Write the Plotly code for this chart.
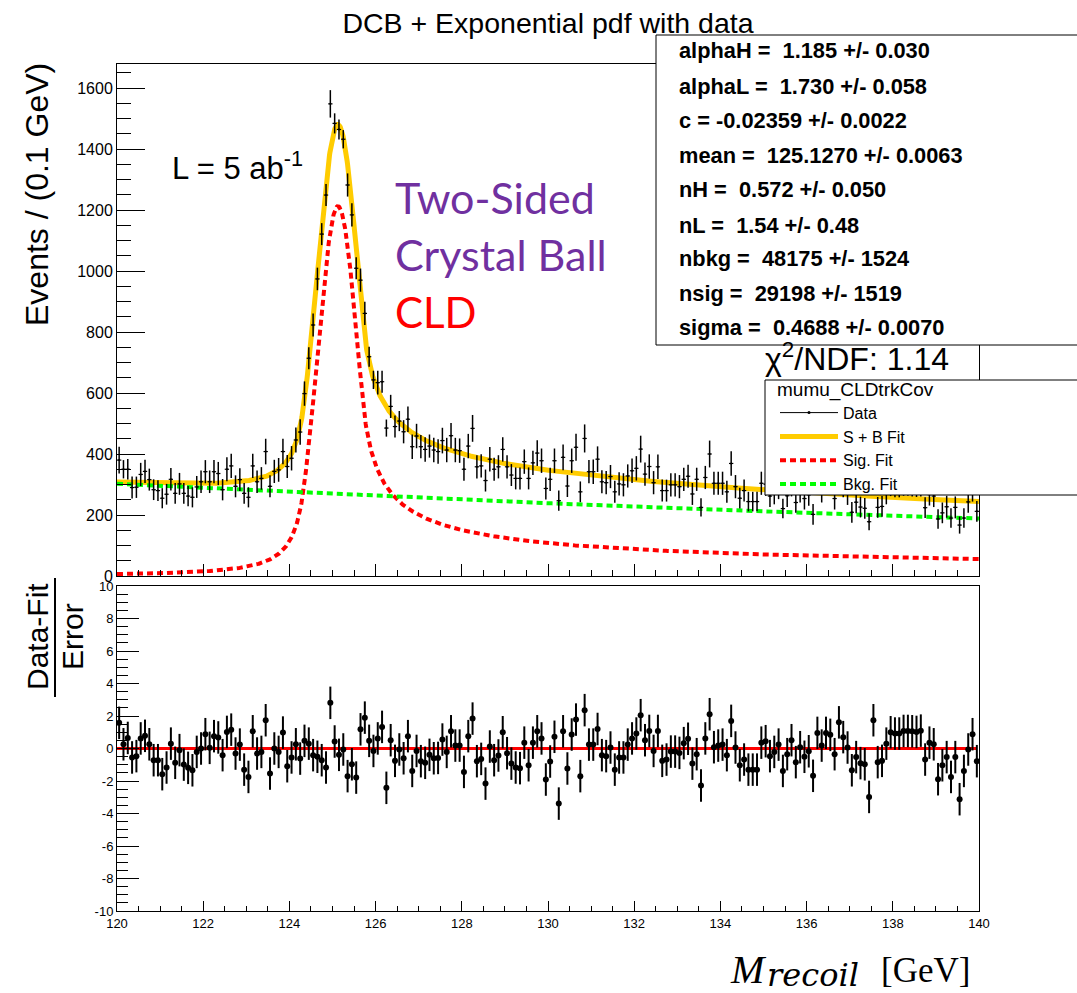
import numpy as np
import plotly.graph_objects as go

# ---------------------------------------------------------------------------
# Binning: 200 bins of 0.1 GeV in the recoil mass
# ---------------------------------------------------------------------------
x_lo, x_hi, bin_width = 120.0, 140.0, 0.1
bin_centers = np.linspace(x_lo + bin_width / 2, x_hi - bin_width / 2, 200)

# Events per bin (weighted sample)
events = [
    380, 350, 350, 290, 291, 333, 343, 316, 283, 280,
    255, 268, 317, 271, 302, 271, 262, 258, 292, 309,
    342, 309, 342, 336, 283, 350, 361, 294, 316, 271,
    258, 361, 309, 320, 408, 294, 343, 348, 408, 359,
    386, 446, 472, 598, 714, 823, 974, 1121, 1249, 1548,
    1484, 1464, 1432, 1282, 1184, 1009, 970, 861, 719, 643,
    634, 637, 485, 556, 490, 508, 473, 514, 424, 459,
    424, 415, 426, 413, 408, 444, 413, 460, 413, 411,
    350, 426, 484, 358, 361, 313, 383, 350, 358, 415,
    358, 331, 320, 320, 375, 320, 371, 403, 378, 287,
    317, 378, 247, 389, 295, 378, 422, 276, 451, 342,
    342, 383, 309, 306, 326, 276, 302, 299, 328, 345,
    353, 416, 334, 359, 306, 358, 280, 280, 299, 299,
    293, 317, 327, 269, 317, 225, 323, 400, 304, 304,
    304, 276, 369, 293, 255, 280, 244, 244, 244, 304,
    301, 262, 272, 290, 221, 263, 299, 241, 279, 254,
    266, 202, 312, 279, 310, 305, 254, 336, 296, 269,
    209, 242, 226, 222, 178, 334, 225, 228, 272, 300,
    296, 296, 301, 301, 299, 297, 299, 224, 267, 262,
    187, 207, 227, 190, 225, 167, 190, 243, 282, 212,
]

# Uncertainty on the events per bin
event_errors = [
    44, 30, 34, 36, 35, 38, 38, 36, 34, 34,
    33, 34, 37, 34, 36, 34, 33, 33, 36, 37,
    38, 37, 38, 38, 35, 39, 40, 36, 37, 34,
    33, 40, 37, 37, 42, 36, 38, 39, 42, 38,
    40, 41, 42, 40, 36, 38, 37, 36, 36, 45,
    33, 33, 30, 38, 38, 36, 38, 38, 33, 30,
    39, 36, 28, 38, 36, 33, 38, 42, 40, 40,
    38, 40, 38, 40, 40, 42, 40, 42, 40, 40,
    38, 40, 44, 38, 38, 36, 40, 38, 38, 40,
    38, 36, 36, 36, 40, 36, 40, 42, 40, 36,
    38, 40, 33, 42, 36, 40, 44, 34, 46, 38,
    40, 42, 38, 38, 38, 36, 38, 38, 38, 40,
    40, 44, 38, 40, 38, 40, 36, 36, 38, 38,
    38, 38, 38, 36, 38, 30, 38, 44, 38, 38,
    38, 36, 40, 38, 34, 36, 32, 32, 32, 38,
    38, 36, 37, 38, 32, 37, 38, 34, 38, 36,
    36, 34, 40, 38, 40, 38, 36, 42, 38, 36,
    34, 36, 34, 34, 28, 42, 34, 34, 37, 38,
    38, 38, 38, 38, 38, 38, 38, 34, 36, 36,
    32, 34, 36, 32, 36, 28, 32, 36, 38, 34,
]

# Pulls (Data - Fit) / Error per bin
pulls = [
    1.58, 0.26, 0.65, -0.55, -0.47, 0.62, 0.78, 0.26, -0.72, -0.72,
    -1.58, -1.17, 0.30, -0.88, -0.10, -0.99, -1.19, -1.34, -0.21, 0.00,
    0.88, 0.04, 0.76, 0.68, -0.41, 1.02, 1.16, -0.31, 0.24, -1.30,
    -1.75, 1.06, -0.31, -0.21, 1.74, -1.54, 0.00, -0.21, 0.98, -1.09,
    -0.55, 0.26, -0.62, 0.47, 0.30, -0.41, -0.51, -0.72, -1.17, 2.81,
    0.43, -0.39, -0.06, -1.70, -0.97, -1.79, 1.18, 1.90, 0.47, -0.15,
    0.62, 1.33, -2.42, 0.51, -0.76, -0.06, -0.60, 0.76, -1.38, -0.15,
    -0.78, -0.88, -0.39, -0.60, -0.58, 0.55, -0.21, 1.06, 0.18, 0.18,
    -1.44, 0.76, 1.84, -0.78, -0.64, -2.16, 0.12, -0.72, -0.43, 1.00,
    -0.29, -0.93, -1.17, -1.21, 0.36, -1.03, 0.36, 1.06, 0.62, -1.91,
    -0.80, 0.72, -3.39, 1.06, -1.23, 0.86, 1.78, -1.70, 2.36, 0.24,
    0.24, 1.20, -0.41, -0.47, 0.06, -1.30, -0.55, -0.55, 0.24, 0.62,
    0.92, 2.05, 0.51, 1.08, -0.15, 1.08, -0.76, -0.68, -0.19, -0.19,
    -0.27, 0.33, 0.60, -0.93, -0.35, -2.28, 0.62, 2.11, 0.08, 0.18,
    0.24, -0.41, 1.70, 0.06, -1.03, -0.68, -1.30, -1.30, -1.30, 0.36,
    0.45, -0.47, -0.21, 0.24, -1.38, -0.35, 0.51, -0.84, 0.08, -0.51,
    -0.17, -1.68, 0.96, 0.18, 0.96, 0.84, -0.35, 1.61, 0.70, 0.06,
    -1.34, -0.53, -0.90, -0.97, -2.98, 1.74, -0.84, -0.76, 0.30, 1.00,
    0.92, 0.92, 1.08, 1.08, 1.06, 1.02, 1.10, -0.68, 0.36, 0.26,
    -1.89, -1.03, -0.53, -1.75, -0.53, -3.12, -1.38, -0.06, 0.88, -0.78,
]

# ---------------------------------------------------------------------------
# Fit result: double-sided Crystal Ball + exponential
# ---------------------------------------------------------------------------
alpha_h, alpha_h_err = 1.185, 0.030
alpha_l, alpha_l_err = 1.730, 0.058
c_exp, c_exp_err = -0.02359, 0.0022
mean, mean_err = 125.1270, 0.0063
n_h, n_h_err = 0.572, 0.050
n_l, n_l_err = 1.54, 0.48
n_bkg, n_bkg_err = 48175, 1524
n_sig, n_sig_err = 29198, 1519
sigma, sigma_err = 0.4688, 0.0070
chi2_ndf = 1.14

param_lines = [
    f"alphaH =  {alpha_h:.3f} +/- {alpha_h_err:.3f}",
    f"alphaL =  {alpha_l:.3f} +/- {alpha_l_err:.3f}",
    f"c = {c_exp:.5f} +/- {c_exp_err:.4f}",
    f"mean =  {mean:.4f} +/- {mean_err:.4f}",
    f"nH =  {n_h:.3f} +/- {n_h_err:.3f}",
    f"nL =  {n_l:.2f} +/- {n_l_err:.2f}",
    f"nbkg =  {n_bkg:d} +/- {n_bkg_err:d}",
    f"nsig =  {n_sig:d} +/- {n_sig_err:d}",
    f"sigma =  {sigma:.4f} +/- {sigma_err:.4f}",
]


def double_crystal_ball(x):
    t = (x - mean) / sigma
    out = np.exp(-0.5 * t * t)
    a_l = (n_l / alpha_l) ** n_l * np.exp(-0.5 * alpha_l ** 2)
    b_l = n_l / alpha_l - alpha_l
    a_h = (n_h / alpha_h) ** n_h * np.exp(-0.5 * alpha_h ** 2)
    b_h = n_h / alpha_h - alpha_h
    low = t < -alpha_l
    high = t > alpha_h
    out[low] = a_l * (b_l - t[low]) ** (-n_l)
    out[high] = a_h * (b_h + t[high]) ** (-n_h)
    return out


grid = np.linspace(x_lo, x_hi, 2001)
sig_shape = double_crystal_ball(grid)
sig_curve = n_sig * bin_width * sig_shape / np.trapezoid(sig_shape, grid)
bkg_shape = np.exp(c_exp * grid)
bkg_curve = n_bkg * bin_width * bkg_shape / np.trapezoid(bkg_shape, grid)
total_curve = sig_curve + bkg_curve

# ---------------------------------------------------------------------------
# Page geometry (pixels)
# ---------------------------------------------------------------------------
W, H = 1077, 993
L_PX, R_PX, T_PX, B_PX = 117, 979, 64, 911
PW, PH = R_PX - L_PX, B_PX - T_PX


def px_x(px):
    return (px - L_PX) / PW


def px_y(py):
    return (B_PX - py) / PH


SANS = "Liberation Sans, Arial, Helvetica, sans-serif"
SERIF = "Liberation Serif, Times New Roman, serif"
ORANGE = "rgb(255,204,0)"
RED = "rgb(255,0,0)"
GREEN = "rgb(0,255,0)"

fig = go.Figure()

# Fit components (top pad)
fig.add_trace(go.Scatter(x=grid, y=total_curve, mode="lines", name="S + B Fit",
                         line=dict(color=ORANGE, width=5), legendrank=2,
                         xaxis="x", yaxis="y", hoverinfo="skip"))
fig.add_trace(go.Scatter(x=grid, y=sig_curve, mode="lines", name="Sig. Fit",
                         line=dict(color=RED, width=4, dash="6px,4px"), legendrank=3,
                         xaxis="x", yaxis="y", hoverinfo="skip"))
fig.add_trace(go.Scatter(x=grid, y=bkg_curve, mode="lines", name="Bkg. Fit",
                         line=dict(color=GREEN, width=4, dash="6px,4px"), legendrank=4,
                         xaxis="x", yaxis="y", hoverinfo="skip"))

# Data points with error bars
fig.add_trace(go.Scatter(
    x=bin_centers, y=events, mode="markers", showlegend=False,
    marker=dict(color="black", size=2),
    error_y=dict(type="data", array=event_errors, color="black", thickness=1.5, width=0),
    error_x=dict(type="constant", value=bin_width / 2, color="black", thickness=1.2, width=0),
    xaxis="x", yaxis="y"))
# legend key for the data
fig.add_trace(go.Scatter(x=[None], y=[None], mode="lines+markers", name="Data",
                         line=dict(color="black", width=1),
                         marker=dict(color="black", size=3), legendrank=1,
                         xaxis="x", yaxis="y"))

# Pull pad
fig.add_trace(go.Scatter(x=[x_lo, x_hi - bin_width / 2], y=[0, 0], mode="lines",
                         line=dict(color=RED, width=3), showlegend=False,
                         xaxis="x2", yaxis="y2", hoverinfo="skip"))
fig.add_trace(go.Scatter(
    x=bin_centers, y=pulls, mode="markers", showlegend=False,
    marker=dict(color="black", size=6),
    error_y=dict(type="constant", value=1.0, color="black", thickness=2, width=0),
    xaxis="x2", yaxis="y2"))

axis_common = dict(showgrid=False, zeroline=False, showline=True, mirror=True,
                   linecolor="black", linewidth=1, ticks="inside", tickcolor="black",
                   tickwidth=1)

pull_ticks = [-10, -8, -6, -4, -2, 0, 2, 4, 6, 8, 10]
mass_ticks = [120, 122, 124, 126, 128, 130, 132, 134, 136, 138, 140]

top_bottom = px_y(576)
pull_top = px_y(586)

fig.update_layout(
    width=W, height=H,
    margin=dict(l=L_PX, r=W - R_PX, t=T_PX, b=H - B_PX),
    paper_bgcolor="white", plot_bgcolor="white",
    font=dict(family=SANS, color="black"),
    title=dict(text="DCB + Exponential pdf with data", x=0.5, xref="paper",
               y=1 - 23 / H, yref="container", yanchor="middle", xanchor="center",
               font=dict(family=SANS, size=28.5, color="black")),
    xaxis=dict(domain=[0, 1], anchor="y", range=[x_lo, x_hi], showticklabels=False,
               tickmode="linear", tick0=120, dtick=2, ticklen=12,
               minor=dict(ticks="inside", ticklen=6, dtick=0.5, tick0=120, tickcolor="black"),
               **axis_common),
    yaxis=dict(domain=[top_bottom, 1], anchor="x", range=[0, 1678.7],
               tickmode="linear", tick0=0, dtick=200, ticklen=28,
               tickfont=dict(size=16, family=SANS),
               minor=dict(ticks="inside", ticklen=14, dtick=50, tick0=0, tickcolor="black"),
               **axis_common),
    xaxis2=dict(domain=[0, 1], anchor="y2", range=[x_lo, x_hi],
                tickmode="array", tickvals=mass_ticks, ticktext=[str(v) for v in mass_ticks],
                ticklen=10, tickfont=dict(size=13, family=SANS),
                minor=dict(ticks="inside", ticklen=5, dtick=0.5, tick0=120, tickcolor="black"),
                **axis_common),
    yaxis2=dict(domain=[0, pull_top], anchor="x2", range=[-10, 10],
                tickmode="array", tickvals=pull_ticks, ticktext=[str(v) for v in pull_ticks],
                ticklen=22, tickfont=dict(size=13, family=SANS),
                minor=dict(ticks="inside", ticklen=11, dtick=0.5, tick0=-10, tickcolor="black"),
                **axis_common),
    showlegend=True,
    legend=dict(x=px_x(775), y=px_y(371), xanchor="left", yanchor="top",
                xref="paper", yref="paper",
                bgcolor="rgba(0,0,0,0)", borderwidth=0,
                title=dict(text="mumu_CLDtrkCov", font=dict(size=19, family=SANS)),
                font=dict(size=16, family=SANS), itemwidth=58, tracegroupgap=0,
                traceorder="normal"),
)

shapes = [
    # parameter box
    dict(type="rect", xref="paper", yref="paper", x0=px_x(656), x1=px_x(1090),
         y0=px_y(345), y1=px_y(35), fillcolor="white", line=dict(color="black", width=1),
         layer="above"),
    # legend box
    dict(type="rect", xref="paper", yref="paper", x0=px_x(765), x1=px_x(1090),
         y0=px_y(495), y1=px_y(380), fillcolor="white", line=dict(color="black", width=1),
         layer="above"),
    # fraction bar of the pull axis title
    dict(type="line", xref="paper", yref="paper", x0=px_x(55), x1=px_x(55),
         y0=px_y(697), y1=px_y(578), line=dict(color="black", width=2)),
]

annotations = []
row_y = [50, 86, 121, 156, 190, 225, 258, 293, 327]
for text, yy in zip(param_lines, row_y):
    annotations.append(dict(text="<b>" + text.replace("  ", "\u00a0\u00a0") + "</b>",
                            xref="paper", yref="paper", x=px_x(677), y=px_y(yy),
                            xanchor="left", yanchor="middle", showarrow=False,
                            font=dict(size=21.8, family=SANS, color="black")))

annotations += [
    dict(text=f"\u03c7<sup>2</sup>/NDF: {chi2_ndf:.2f}", xref="paper", yref="paper",
         x=px_x(763), y=px_y(357), xanchor="left", yanchor="middle", showarrow=False,
         font=dict(size=32, family=SANS, color="black")),
    dict(text="L = 5 ab<sup>-1</sup>", xref="paper", yref="paper",
         x=px_x(170), y=px_y(166), xanchor="left", yanchor="middle", showarrow=False,
         font=dict(size=31, family=SANS, color="black")),
    dict(text="Two-Sided", xref="paper", yref="paper", x=px_x(393), y=px_y(197),
         xanchor="left", yanchor="middle", showarrow=False,
         font=dict(size=43, family="Lato, sans-serif", color="rgb(112,48,160)")),
    dict(text="Crystal Ball", xref="paper", yref="paper", x=px_x(393), y=px_y(254),
         xanchor="left", yanchor="middle", showarrow=False,
         font=dict(size=43, family="Lato, sans-serif", color="rgb(112,48,160)")),
    dict(text="CLD", xref="paper", yref="paper", x=px_x(393), y=px_y(312),
         xanchor="left", yanchor="middle", showarrow=False,
         font=dict(size=42, family="Lato, sans-serif", color=RED)),
    dict(text="Events / (0.1 GeV)", xref="paper", yref="paper", x=px_x(37), y=px_y(195),
         xanchor="center", yanchor="middle", textangle=-90, showarrow=False,
         font=dict(size=32, family=SANS, color="black")),
    dict(text="Data-Fit", xref="paper", yref="paper", x=px_x(37), y=px_y(637),
         xanchor="center", yanchor="middle", textangle=-90, showarrow=False,
         font=dict(size=30, family=SANS, color="black")),
    dict(text="Error", xref="paper", yref="paper", x=px_x(72), y=px_y(637),
         xanchor="center", yanchor="middle", textangle=-90, showarrow=False,
         font=dict(size=30, family=SANS, color="black")),
    # x-axis title: M_recoil [GeV]
    dict(text="<i>M</i>", xref="paper", yref="paper",
         x=px_x(728), y=px_y(969), xanchor="left", yanchor="middle", showarrow=False,
         font=dict(size=40, family=SERIF, color="black")),
    dict(text="<i>recoil</i>", xref="paper", yref="paper",
         x=px_x(765), y=px_y(975), xanchor="left", yanchor="middle", showarrow=False,
         font=dict(size=32, family="DejaVu Serif, serif", color="black")),
    dict(text="[GeV]", xref="paper", yref="paper",
         x=px_x(879), y=px_y(970), xanchor="left", yanchor="middle", showarrow=False,
         font=dict(size=35, family=SERIF, color="black")),
]

fig.update_layout(shapes=shapes, annotations=annotations)

fig.write_html("out.html")
